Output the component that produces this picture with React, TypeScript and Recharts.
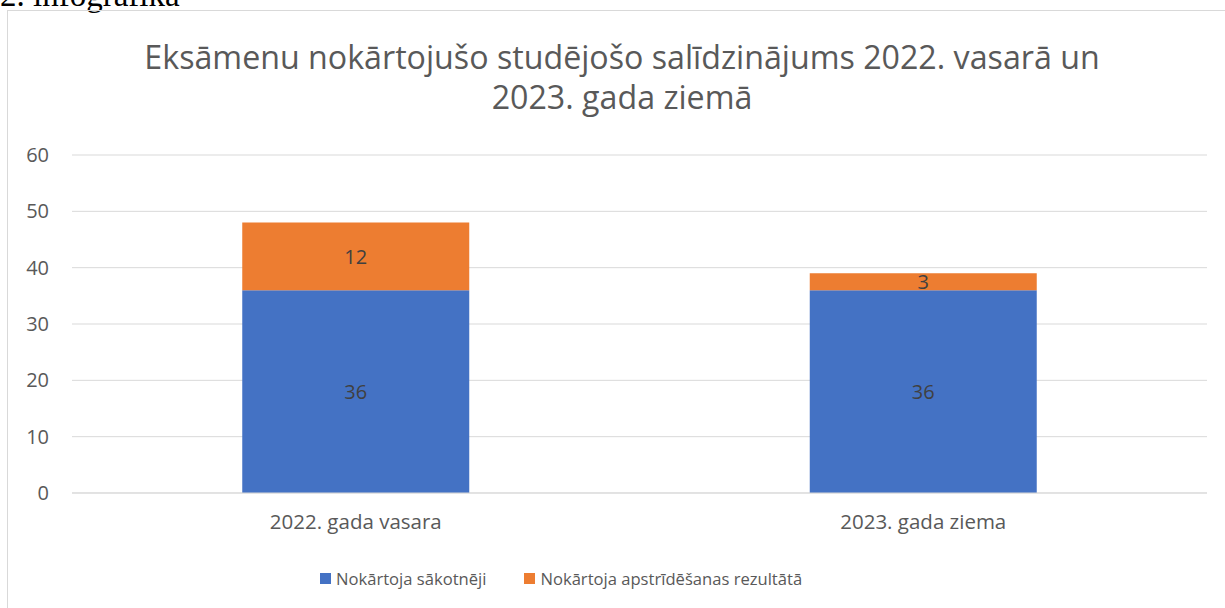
import React from 'react';
import { BarChart, Bar, XAxis, YAxis, CartesianGrid, LabelList, Legend } from 'recharts';

const categories = ['2022. gada vasara', '2023. gada ziema'];
const initialPass = [36, 36];
const appealPass = [12, 3];
const yTicks = [0, 10, 20, 30, 40, 50, 60];
const seriesNames = ['Nokārtoja sākotnēji', 'Nokārtoja apstrīdēšanas rezultātā'];
const seriesColors = ['#4472C4', '#ED7D31'];
const titleLines = ['Eksāmenu nokārtojušo studējošo salīdzinājums 2022. vasarā un', '2023. gada ziemā'];

const data = categories.map((c, i) => ({ name: c, a: initialPass[i], b: appealPass[i] }));

const FONT = "'Open Sans', sans-serif";
const TXT = '#595959';

const LegendContent = () => (
  <div style={{ display: 'flex', alignItems: 'center', paddingLeft: 320, fontFamily: FONT, fontSize: 16.6, color: TXT, height: 24 }}>
    {seriesNames.map((n, i) => (
      <div key={n} style={{ display: 'flex', alignItems: 'center', marginRight: 38 }}>
        <div style={{ width: 11, height: 11, background: seriesColors[i], marginRight: 5 }} />
        <span>{n}</span>
      </div>
    ))}
  </div>
);

export default function App() {
  return (
    <div style={{ position: 'fixed', left: 0, top: 0, width: 1225, height: 608, overflow: 'hidden', background: '#fff' }}>
      <div style={{ position: 'absolute', left: 0, top: -21, fontFamily: "'Liberation Serif', serif", fontSize: 33, lineHeight: '33px', color: '#000', whiteSpace: 'nowrap' }}>
        2. infografika
      </div>
      <div style={{ position: 'absolute', left: 7, top: 10, width: 1400, height: 800, border: '1px solid #d9d9d9' }} />
      <div style={{ position: 'absolute', left: 0, top: 37, width: 1244, textAlign: 'center', fontFamily: FONT, fontSize: 32.2, lineHeight: '40px', color: TXT }}>
        {titleLines.map((t) => (<div key={t}>{t}</div>))}
      </div>
      <div style={{ position: 'absolute', left: 0, top: 0 }}>
        <BarChart width={1225} height={608} data={data} margin={{ top: 155, right: 18, left: 0, bottom: 18 }} barCategoryGap="30%">
          <CartesianGrid vertical={false} stroke="#d9d9d9" strokeWidth={1} />
          <XAxis dataKey="name" axisLine={{ stroke: '#d9d9d9' }} tickLine={false} tickSize={0} tickMargin={21} height={73}
            tick={{ fill: TXT, fontSize: 20.5, fontFamily: FONT }} />
          <YAxis domain={[0, 60]} ticks={yTicks} axisLine={false} tickLine={false} tickSize={0} tickMargin={23} width={72}
            tick={{ fill: TXT, fontSize: 20, fontFamily: FONT }} />
          <Legend verticalAlign="bottom" content={<LegendContent />} />
          <Bar dataKey="a" name={seriesNames[0]} stackId="s" fill={seriesColors[0]} isAnimationActive={false}>
            <LabelList dataKey="a" position="center" fill="#404040" fontSize={20} fontFamily={FONT} />
          </Bar>
          <Bar dataKey="b" name={seriesNames[1]} stackId="s" fill={seriesColors[1]} isAnimationActive={false}>
            <LabelList dataKey="b" position="center" fill="#404040" fontSize={20} fontFamily={FONT} />
          </Bar>
        </BarChart>
      </div>
    </div>
  );
}
